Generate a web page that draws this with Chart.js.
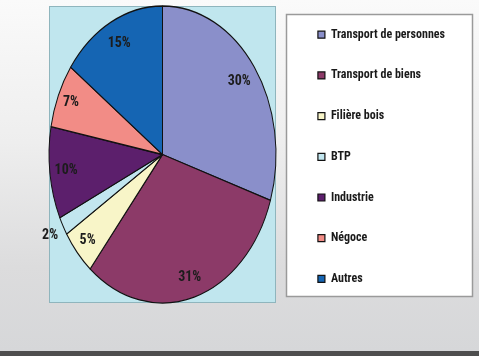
<!DOCTYPE html>
<html>
<head>
<meta charset="utf-8">
<script src="https://cdn.jsdelivr.net/npm/chart.js@4/dist/chart.umd.min.js"></script>
<style>
html,body{margin:0;padding:0;}
body{width:479px;height:356px;overflow:hidden;position:relative;
background:linear-gradient(to bottom,#fafafa 0%,#eeeeee 40%,#dcdcdd 75%,#d6d7d9 98.5%,#4e4e4e 98.6%,#4e4e4e 100%);}
#wrap{position:absolute;left:0;top:0;width:479px;height:356px;}
</style>
</head>
<body>
<div id="wrap"><canvas id="c" width="479" height="356"></canvas></div>
<script>
const categories = ["Transport de personnes","Transport de biens","Filière bois","BTP","Industrie","Négoce","Autres"];
const shares = [30,31,5,2,10,7,15];
const valueLabels = ["30%","31%","5%","2%","10%","7%","15%"];
const sliceColors = ["#8a8fca","#8c3a68","#f8f5c8","#c2e6ef","#5c1f6c","#f28c86","#1565b3"];

const FONT = "'Roboto Condensed','Liberation Sans',sans-serif";
// target ellipse geometry of the pie
const ELL = {cx:162.5, cy:154.5, rx:113.5, ry:148.5};
const labelRadius = [0.835,0.86,0.88,1.13,0.856,0.878,0.84];

const framePlugin = {
  id:'frames',
  beforeDraw(chart){
    const ctx = chart.ctx;
    ctx.save();
    ctx.fillStyle = '#c0e6ee';
    ctx.fillRect(49,6,227,297);
    ctx.strokeStyle = '#8fb5bd';
    ctx.lineWidth = 1;
    ctx.strokeRect(49.5,6.5,226,296);
    ctx.fillStyle = '#ffffff';
    ctx.fillRect(286,14,187,283);
    ctx.strokeStyle = '#9a9a9a';
    ctx.lineWidth = 1.5;
    ctx.strokeRect(286.5,14.5,186,282);
    ctx.restore();
  }
};

const ellipsePlugin = {
  id:'ellipse',
  beforeDatasetsDraw(chart){
    const arc = chart.getDatasetMeta(0).data[0];
    const R = arc.outerRadius;
    const ctx = chart.ctx;
    ctx.save();
    ctx.translate(ELL.cx, ELL.cy);
    ctx.scale(ELL.rx/R, ELL.ry/R);
    ctx.translate(-arc.x, -arc.y);
  },
  afterDatasetsDraw(chart){
    const ctx = chart.ctx;
    ctx.restore();
    const meta = chart.getDatasetMeta(0);
    ctx.save();
    ctx.font = "bold 14px " + FONT;
    ctx.fillStyle = '#1c1c1c';
    ctx.textAlign = 'center';
    ctx.textBaseline = 'middle';
    meta.data.forEach((a,i)=>{
      const mid = (a.startAngle + a.endAngle)/2;
      const f = labelRadius[i];
      const x = ELL.cx + Math.cos(mid)*ELL.rx*f;
      const y = ELL.cy + Math.sin(mid)*ELL.ry*f;
      ctx.fillText(valueLabels[i], x, y);
    });
    ctx.restore();
  }
};

new Chart(document.getElementById('c'), {
  type:'pie',
  data:{
    labels:categories,
    datasets:[{
      data:shares,
      backgroundColor:sliceColors,
      borderColor:'#111111',
      borderWidth:1.2
    }]
  },
  options:{
    responsive:false,
    animation:false,
    layout:{padding:{left:10,right:24,top:0,bottom:0}},
    plugins:{
      tooltip:{enabled:false},
      legend:{
        position:'right',
        align:'start',
        labels:{
          boxWidth:7,
          boxHeight:7,
          padding:28.7,
          color:'#1a1a1a',
          font:{family:FONT,size:12,weight:'bold'}
        }
      }
    }
  },
  plugins:[framePlugin, ellipsePlugin]
});
</script>
</body>
</html>
